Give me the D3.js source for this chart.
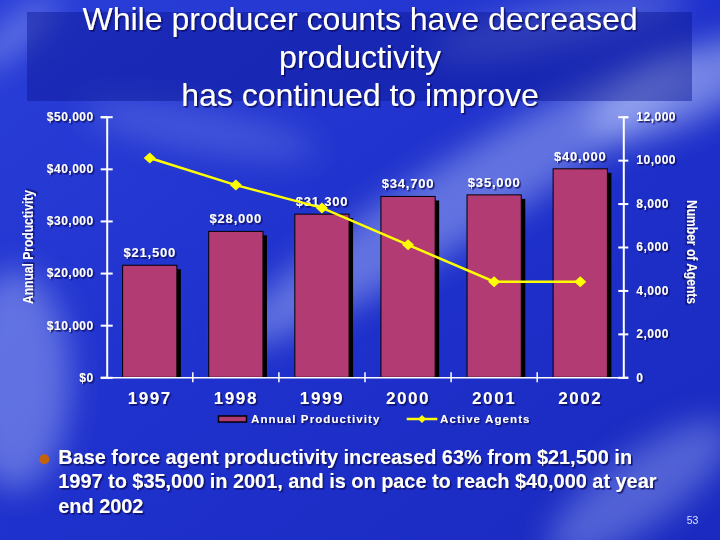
<!DOCTYPE html>
<html>
<head>
<meta charset="utf-8">
<script src="https://cdn.jsdelivr.net/npm/d3@7"></script>
<style>
  body { margin: 0; background: #1f30c8; }
  svg { display: block; }
</style>
</head>
<body>
<div id="chart"></div>
<script>
// chart data
const years = ["1997", "1998", "1999", "2000", "2001", "2002"];
const productivity = [21500, 28000, 31300, 34700, 35000, 40000];
const agents = [10100, 8850, 7800, 6100, 4400, 4400];
const leftTicks = [0, 10000, 20000, 30000, 40000, 50000];
const rightTicks = [0, 2000, 4000, 6000, 8000, 10000, 12000];
const titleLines = ["While producer counts have decreased", "productivity", "has continued to improve"];
const bodyLines = [
    "Base force agent productivity increased 63% from $21,500 in",
    "1997 to $35,000 in 2001, and is on pace to reach $40,000 at year",
    "end 2002"
];

const width = 720, height = 540;
const plot = { left: 106.7, right: 623.3, top: 116.7, bottom: 377.3 };
const barColor = "#b23b74";

const svg = d3.select("#chart").append("svg")
    .attr("width", width)
    .attr("height", height);

const defs = svg.append("defs");

const bg = defs.append("linearGradient").attr("id", "bg")
    .attr("x1", 0).attr("y1", 0).attr("x2", 1).attr("y2", 1);
bg.append("stop").attr("offset", 0).attr("stop-color", "#2a3ed8");
bg.append("stop").attr("offset", 0.5).attr("stop-color", "#1f31cc");
bg.append("stop").attr("offset", 1).attr("stop-color", "#1a2ac0");

defs.append("filter").attr("id", "soft")
    .attr("x", "-50%").attr("y", "-50%").attr("width", "200%").attr("height", "200%")
    .append("feGaussianBlur").attr("stdDeviation", 16);

defs.append("filter").attr("id", "ts")
    .append("feDropShadow")
    .attr("dx", 1.5).attr("dy", 1.5).attr("stdDeviation", 0)
    .attr("flood-color", "#0b0f5c").attr("flood-opacity", 0.9);

// background
svg.append("rect").attr("width", width).attr("height", height).attr("fill", "url(#bg)");

// light swooshes in the backdrop
const swooshes = [
    { cx: 460, cy: 200, rx: 270, ry: 40, rot: -32, op: 0.4 },
    { cx: 680, cy: 90, rx: 100, ry: 34, rot: -25, op: 0.5 },
    { cx: 15, cy: 380, rx: 55, ry: 110, rot: 0, op: 0.38 },
    { cx: 640, cy: 490, rx: 110, ry: 36, rot: -35, op: 0.32 },
    { cx: 15, cy: 35, rx: 55, ry: 12, rot: -40, op: 0.45 },
    { cx: 560, cy: 25, rx: 130, ry: 22, rot: -12, op: 0.28 },
    { cx: 200, cy: 130, rx: 120, ry: 20, rot: 10, op: 0.2 }
];
svg.append("g").attr("filter", "url(#soft)")
    .selectAll("ellipse")
    .data(swooshes)
    .enter().append("ellipse")
    .attr("cx", d => d.cx).attr("cy", d => d.cy)
    .attr("rx", d => d.rx).attr("ry", d => d.ry)
    .attr("transform", d => `rotate(${d.rot},${d.cx},${d.cy})`)
    .attr("fill", "#c8d6ff")
    .attr("opacity", d => d.op);

// title box
svg.append("rect")
    .attr("x", 27).attr("y", 12)
    .attr("width", 665).attr("height", 89)
    .attr("fill", "#0c1790").attr("opacity", 0.45);

svg.append("g")
    .selectAll("text")
    .data(titleLines)
    .enter().append("text")
    .attr("x", 360)
    .attr("y", (d, i) => 30 + i * 38)
    .attr("text-anchor", "middle")
    .attr("fill", "white")
    .attr("filter", "url(#ts)")
    .style("font-family", "'Liberation Sans', Arial, sans-serif")
    .style("font-size", "32px")
    .text(d => d);

// scales
const x = d3.scaleBand()
    .domain(years)
    .range([plot.left, plot.right])
    .padding(0);
const barW = x.bandwidth() * 0.63;

const yLeft = d3.scaleLinear()
    .domain([0, 50000])
    .range([plot.bottom, plot.top]);

const yRight = d3.scaleLinear()
    .domain([0, 12000])
    .range([plot.bottom, plot.top]);

const barX = (d, i) => x(years[i]) + (x.bandwidth() - barW) / 2;

const graph = svg.append("g");

// bar shadows
graph.selectAll(".shadow")
    .data(productivity)
    .enter().append("rect")
    .attr("class", "shadow")
    .attr("x", (d, i) => barX(d, i) + 4)
    .attr("y", d => yLeft(d) + 4)
    .attr("width", barW)
    .attr("height", d => yLeft(0) - yLeft(d) - 4)
    .attr("fill", "black");

// bars
graph.selectAll(".bar")
    .data(productivity)
    .enter().append("rect")
    .attr("class", "bar")
    .attr("x", barX)
    .attr("y", d => yLeft(d))
    .attr("width", barW)
    .attr("height", d => yLeft(0) - yLeft(d))
    .attr("fill", barColor)
    .attr("stroke", "black")
    .attr("stroke-width", 1);

// value labels
graph.selectAll(".val")
    .data(productivity)
    .enter().append("text")
    .attr("class", "val")
    .attr("x", (d, i) => x(years[i]) + x.bandwidth() / 2)
    .attr("y", d => yLeft(d) - 8)
    .attr("text-anchor", "middle")
    .attr("fill", "white")
    .attr("filter", "url(#ts)")
    .style("font-family", "'Liberation Sans', Arial, sans-serif")
    .style("font-weight", "bold")
    .style("font-size", "13px")
    .style("letter-spacing", "0.8px")
    .text(d => "$" + d3.format(",")(d));

// left axis
const leftAxis = svg.append("g")
    .attr("transform", `translate(${plot.left},0)`)
    .call(d3.axisLeft(yLeft).tickValues(leftTicks).tickSizeOuter(0).tickSize(6).tickPadding(7)
        .tickFormat(d => "$" + d3.format(",")(d)));
leftAxis.select(".domain").attr("stroke", "white").attr("stroke-width", 2);
leftAxis.selectAll(".tick line").attr("x1", -6).attr("x2", 6).attr("stroke", "white").attr("stroke-width", 2);
leftAxis.selectAll(".tick text")
    .attr("fill", "white")
    .attr("filter", "url(#ts)")
    .style("font-family", "'Liberation Sans', Arial, sans-serif")
    .style("font-weight", "bold")
    .style("font-size", "12px")
    .style("letter-spacing", "0.5px");

// right axis
const rightAxis = svg.append("g")
    .attr("transform", `translate(${plot.right},0)`)
    .call(d3.axisRight(yRight).tickValues(rightTicks).tickSizeOuter(0).tickSize(5).tickPadding(8)
        .tickFormat(d3.format(",")));
rightAxis.select(".domain").attr("stroke", "white").attr("stroke-width", 2);
rightAxis.selectAll(".tick line").attr("x1", -5).attr("x2", 5).attr("stroke", "white").attr("stroke-width", 2);
rightAxis.selectAll(".tick text")
    .attr("fill", "white")
    .attr("filter", "url(#ts)")
    .style("font-family", "'Liberation Sans', Arial, sans-serif")
    .style("font-weight", "bold")
    .style("font-size", "12px")
    .style("letter-spacing", "0.5px");

// bottom axis
const bottomAxis = svg.append("g")
    .attr("transform", `translate(0,${plot.bottom})`)
    .call(d3.axisBottom(x).tickSize(0).tickPadding(16));
bottomAxis.select(".domain").attr("stroke", "white").attr("stroke-width", 1.5);
bottomAxis.selectAll(".tick text")
    .attr("y", 27)
    .attr("dy", 0)
    .attr("fill", "white")
    .attr("filter", "url(#ts)")
    .style("font-family", "'Liberation Sans', Arial, sans-serif")
    .style("font-weight", "bold")
    .style("font-size", "17px")
    .style("letter-spacing", "1.6px");
bottomAxis.selectAll(".sep")
    .data(years.slice(1))
    .enter().append("line")
    .attr("class", "sep")
    .attr("x1", d => x(d)).attr("x2", d => x(d))
    .attr("y1", -5).attr("y2", 5)
    .attr("stroke", "white")
    .attr("stroke-width", 1.5);

// axis titles
svg.append("text")
    .attr("transform", "translate(33,247) rotate(-90)")
    .attr("text-anchor", "middle")
    .attr("fill", "white")
    .attr("filter", "url(#ts)")
    .attr("textLength", 114)
    .attr("lengthAdjust", "spacingAndGlyphs")
    .style("font-family", "'Liberation Sans Narrow', 'Arial Narrow', 'Liberation Sans', sans-serif")
    .style("font-weight", "bold")
    .style("font-size", "14px")
    .text("Annual Productivity");

svg.append("text")
    .attr("transform", "translate(687,252) rotate(90)")
    .attr("text-anchor", "middle")
    .attr("fill", "white")
    .attr("filter", "url(#ts)")
    .attr("textLength", 104)
    .attr("lengthAdjust", "spacingAndGlyphs")
    .style("font-family", "'Liberation Sans Narrow', 'Arial Narrow', 'Liberation Sans', sans-serif")
    .style("font-weight", "bold")
    .style("font-size", "14px")
    .text("Number of Agents");

// agents line
const diamond = (s, h) => `M0,${-h}L${s},0L0,${h}L${-s},0Z`;
const line = d3.line()
    .x((d, i) => x(years[i]) + x.bandwidth() / 2)
    .y(d => yRight(d));

svg.append("path")
    .datum(agents)
    .attr("d", line)
    .attr("fill", "none")
    .attr("stroke", "#ffff00")
    .attr("stroke-width", 2.5);

svg.selectAll(".pt")
    .data(agents)
    .enter().append("path")
    .attr("class", "pt")
    .attr("transform", (d, i) => `translate(${x(years[i]) + x.bandwidth() / 2},${yRight(d)})`)
    .attr("d", diamond(6, 5.5))
    .attr("fill", "#ffff00");

// legend
const legend = svg.append("g");
legend.append("rect")
    .attr("x", 218.5).attr("y", 416)
    .attr("width", 28).attr("height", 6)
    .attr("fill", barColor)
    .attr("stroke", "black")
    .attr("stroke-width", 1.5);
legend.append("line")
    .attr("x1", 406.7).attr("x2", 437.3)
    .attr("y1", 419).attr("y2", 419)
    .attr("stroke", "#ffff00")
    .attr("stroke-width", 2.5);
legend.append("path")
    .attr("transform", "translate(422,419)")
    .attr("d", diamond(4, 4))
    .attr("fill", "#ffff00");
legend.selectAll("text")
    .data([{ x: 251, t: "Annual Productivity" }, { x: 440, t: "Active Agents" }])
    .enter().append("text")
    .attr("x", d => d.x)
    .attr("y", 423)
    .attr("fill", "white")
    .attr("filter", "url(#ts)")
    .style("font-family", "'Liberation Sans', Arial, sans-serif")
    .style("font-weight", "bold")
    .style("font-size", "11.5px")
    .style("letter-spacing", "1.1px")
    .text(d => d.t);

// bullet text
svg.append("circle")
    .attr("cx", 44.3).attr("cy", 459.3).attr("r", 5)
    .attr("fill", "#c4620c");

svg.append("g")
    .selectAll("text")
    .data(bodyLines)
    .enter().append("text")
    .attr("x", 58.3)
    .attr("y", (d, i) => 464.3 + i * 24.1)
    .attr("fill", "white")
    .attr("filter", "url(#ts)")
    .style("font-family", "'Liberation Sans', Arial, sans-serif")
    .style("font-weight", "bold")
    .style("font-size", "19.9px")
    .text(d => d);

// page number
svg.append("text")
    .attr("x", 686.7).attr("y", 524)
    .attr("fill", "#d8e0ff")
    .style("font-family", "'Liberation Sans', Arial, sans-serif")
    .style("font-size", "10.5px")
    .text("53");
</script>
</body>
</html>
